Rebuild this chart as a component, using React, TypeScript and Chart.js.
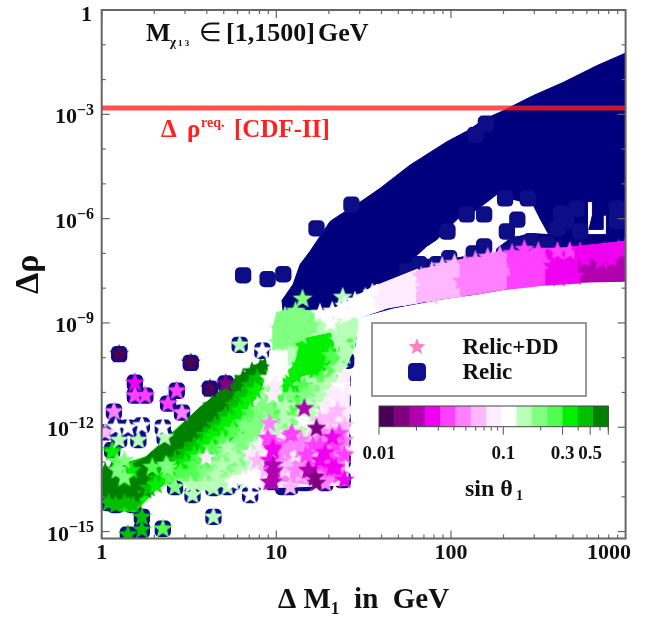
import { useEffect, useRef } from "react";
import { Chart, registerables } from "chart.js";

Chart.register(...registerables);

type Pt = [number, number]; // [log10 ΔM1, log10 Δρ]

const xTickValues = [1, 10, 100, 1000];
const xTickLabels = ["1", "10", "100", "1000      "];
const yTickValues = [1, 1e-3, 1e-6, 1e-9, 1e-12, 1e-15];
const yTickExponents = ["", "−3", "−6", "−9", "−12", "−15"];
const xMinorMult = [2, 3, 4, 5, 6, 7, 8, 9];
const xDecades = [1, 10, 100];
const yDecades = [0, -1, -2, -3, -4, -5, -6, -7, -8, -9, -10, -11, -12, -13, -14, -15];

const reqRho = 0.00151;
const navyFill = "#00007e";
const navySquare = "#0d0d88";

const barColors = ["#4a0055", "#800080", "#b000b0", "#f000f0", "#ff40ff", "#ff80ff", "#ffb8ff", "#ffecff", "#ffffff", "#b8ffb8", "#80ff80", "#50ff50", "#00f000", "#00c000", "#008000"];
const barTicksMajor = [0.01, 0.1, 0.3, 0.5];
const barTicksMinor = [0.02, 0.03, 0.04, 0.05, 0.06, 0.07, 0.08, 0.09, 0.2, 0.4, 0.6, 0.7];
const barLabels = ["0.01", "0.1", "0.3", "0.5"];

const navyTop: Pt[] = [[1.03,-8.37],[1.096,-7.89],[1.136,-7.32],[1.193,-6.94],[1.308,-6.08],[1.365,-5.89],[1.47,-5.56],[1.594,-5.13],[1.766,-4.46],[1.976,-3.79],[2.10,-3.46],[2.195,-3.13],[2.281,-2.94],[2.472,-2.46],[2.644,-2.08],[2.835,-1.60],[3.0,-1.24],[3.0,-6.6],[2.89,-6.6],[2.89,-5.9],[2.87,-5.9],[2.87,-6.31],[2.79,-6.31],[2.81,-5.9],[2.81,-5.51],[2.78,-5.51],[2.78,-6.6],[2.57,-6.6],[2.56,-6.46],[2.51,-6.0],[2.47,-5.6],[2.26,-5.31],[2.21,-5.51],[2.13,-5.8],[2.04,-6.0],[1.92,-6.6],[1.86,-6.8],[1.78,-7.17],[1.67,-8.0],[1.42,-8.6],[1.14,-8.9],[1.04,-8.9]];
const navyLow: Pt[] = [[1.78,-7.17],[1.99,-7.17],[2.07,-7.1],[2.26,-7.17],[2.26,-6.88],[2.34,-6.57],[2.46,-6.43],[2.57,-6.46],[3.0,-6.46],[3.0,-7.78],[2.64,-7.83],[2.38,-7.97],[2.15,-8.17],[1.95,-8.31],[1.67,-8.57],[1.48,-8.83],[1.45,-8.37]];

const navySquares: Pt[] = [[1.23,-6.28],[0.81,-7.63],[0.95,-7.74],[1.04,-7.6],[0.10,-9.9],[0.51,-10.15],[0.62,-10.89],[0.71,-10.74],[0.19,-10.72],[0.19,-11.09],[0.25,-11.09],[0.43,-10.95],[0.38,-11.32],[0.46,-11.58],[0.07,-11.55],[0.02,-12.15],[0.15,-12.01],[0.23,-11.95],[0.35,-12.01],[0.08,-12.0],[0.10,-12.37],[0.21,-12.37],[0.36,-12.29],[0.06,-12.66],[0.79,-9.63],[0.92,-9.8],[0.52,-13.95],[0.64,-13.75],[0.64,-14.58],[0.85,-13.95],[0.75,-13.58],[0.42,-13.72],[0.35,-14.92],[0.23,-14.58],[0.23,-14.95],[0.15,-15.09],[0.04,-14.18],[0.13,-14.18],[0.08,-14.24],[0.18,-14.24],[0.98,-13.58],[1.08,-13.72],[1.22,-13.44],[1.28,-13.61],[1.38,-13.52],[1.38,-12.95],[1.38,-12.37],[1.38,-11.8],[1.38,-11.23],[1.38,-10.66],[1.40,-10.09],[1.41,-9.51],[0.81,-13.47],[0.87,-13.61],[1.04,-13.72],[1.16,-13.61],[0.72,-13.72],[2.19,-5.88],[2.09,-5.88],[2.38,-6.03],[2.32,-6.37],[1.98,-6.37],[2.19,-6.8],[2.13,-7.0],[2.31,-7.0],[2.46,-6.65],[2.38,-6.74],[2.55,-6.74],[2.61,-6.28],[2.66,-6.08],[2.74,-6.37],[2.95,-6.08],[2.72,-5.71],[2.31,-5.42],[2.44,-5.42],[1.99,-7.14],[1.82,-7.31],[1.92,-7.31],[1.75,-7.51],[2.2,-3.27],[2.14,-3.59],[1.43,-5.6],[2.63,-5.85],[2.95,-5.71]];

const polyC8Band: Pt[] = [[1.39,-8.43],[1.58,-7.88],[1.62,-8.37],[1.62,-8.6],[1.46,-8.88]];
const polyC7Band: Pt[] = [[1.58,-7.91],[1.81,-7.45],[1.81,-8.43],[1.67,-8.54],[1.58,-8.63]];
const polyC6Band: Pt[] = [[1.80,-7.51],[2.07,-7.17],[2.07,-8.23],[1.95,-8.31],[1.80,-8.43]];
const polyC5Band: Pt[] = [[2.05,-7.2],[2.34,-7.0],[2.34,-8.0],[2.15,-8.17],[2.05,-8.23]];
const polyC4Band: Pt[] = [[2.32,-7],[2.56,-6.86],[2.56,-7.9],[2.38,-8.0],[2.32,-8.03]];
const polyC3Band: Pt[] = [[2.54,-6.89],[3,-6.65],[3,-7.14],[2.74,-7.17],[2.74,-7.85],[2.54,-7.91]];
const polyC2Band: Pt[] = [[2.73,-7.17],[3,-7.08],[3,-7.8],[2.73,-7.83]];
const polyC9Fan: Pt[] = [[1.0,-9.0],[1.04,-8.66],[1.14,-8.66],[1.47,-8.86],[1.45,-9.66],[1.39,-10.37],[1.32,-11.09],[1.14,-11.8],[0.94,-12.37],[0.88,-13.52],[0.56,-13.81],[0.42,-13.47],[0.56,-12.81],[0.79,-11.8],[0.92,-11.09],[0.98,-9.8]];
const polyC7Low: Pt[] = [[0.91,-12.1],[1.14,-11.66],[1.31,-11.0],[1.39,-10.32],[1.42,-10.43],[1.41,-13.66],[0.91,-13.75],[0.82,-13.38]];
const polyC5Low: Pt[] = [[0.96,-12.23],[1.14,-12.52],[1.28,-12.09],[1.39,-11.95],[1.39,-13.47],[1.25,-13.66],[0.97,-13.52]];
const polyC10Top: Pt[] = [[1.0,-8.7],[1.10,-8.6],[1.21,-8.66],[1.23,-9.23],[1.12,-9.57],[0.98,-9.74],[0.98,-9.09]];
const polyC8Top: Pt[] = [[1.24,-8.72],[1.36,-8.52],[1.47,-8.72],[1.39,-9.0],[1.28,-9.09]];
const polyC8Mid: Pt[] = [[0.96,-9.8],[1.06,-9.8],[1.06,-10.58],[0.98,-10.8],[0.95,-10.37]];
const polyC12Center: Pt[] = [[1.11,-10.09],[1.15,-9.46],[1.31,-9.29],[1.34,-9.8],[1.28,-10.37],[1.15,-10.52],[1.08,-10.8],[1.04,-11.23],[1.04,-10.52]];
const polyC10Low: Pt[] = [[0.42,-13.52],[0.56,-13.01],[0.71,-12.37],[0.82,-11.8],[0.92,-11.17],[0.92,-11.95],[0.82,-13.09],[0.65,-13.52],[0.53,-13.66]];
const polyC12Wedge: Pt[] = [[0,-14.0],[0.10,-14.38],[0.19,-14.44],[0.31,-13.81],[0.56,-12.95],[0.71,-12.23],[0.82,-11.66],[0.92,-10.8],[0.95,-10.31],[0.79,-10.8],[0.56,-11.52],[0.28,-12.81],[0,-13.24]];
const polyC13Wedge: Pt[] = [[0,-14],[0.09,-14.24],[0.19,-14.09],[0.28,-13.52],[0.39,-13.09],[0.64,-11.95],[0.79,-11.23],[0.95,-10.37],[0.79,-10.66],[0.56,-11.44],[0.25,-12.87],[0,-13.24]];
const polyC14Wedge: Pt[] = [[0.94,-10.03],[0.75,-10.66],[0.56,-11.44],[0.37,-12.37],[0.25,-12.87],[0.13,-13.18],[0,-13.24],[0,-14],[0.09,-14.09],[0.19,-13.95],[0.28,-13.3],[0.37,-12.87],[0.64,-11.72],[0.79,-10.86],[0.95,-10.31]];

const starsC14: Pt[] = [[0.91,-10.29],[0.86,-10.40],[0.81,-10.60],[0.77,-10.77],[0.72,-11.00],[0.68,-11.17],[0.70,-11.35],[0.63,-11.38],[0.64,-11.58],[0.59,-11.63],[0.60,-11.83],[0.54,-11.89],[0.55,-12.09],[0.49,-12.12],[0.51,-12.32],[0.45,-12.37],[0.45,-12.58],[0.39,-12.6],[0.40,-12.81],[0.33,-12.81],[0.02,-13.29],[0.04,-13.58],[0.02,-13.81],[0.08,-13.41],[0.09,-13.81],[0.15,-13.72],[0.20,-13.58],[0.25,-13.47],[0.19,-13.99],[0.28,-13.24],[0.06,-13.23],[0.25,-13.81]];
const starsC13: Pt[] = [[0.06,-12.66],[0.04,-14.18],[0.08,-14.24],[0.13,-14.18],[0.18,-14.24],[0.23,-14.58],[0.23,-14.95],[0.15,-15.09],[0.27,-13.75],[0.31,-13.47],[0.10,-13.18],[0.85,-10.8],[0.81,-11.08],[0.76,-11.37],[0.71,-11.66],[0.65,-11.95],[0.59,-12.23],[0.53,-12.52],[0.48,-12.72],[0.42,-12.95],[0.36,-13.09],[0.33,-13.3],[0.89,-10.6]];
const starsC12: Pt[] = [[0.17,-13.24],[0.13,-13.47],[0.88,-10.95],[0.84,-11.23],[0.79,-11.52],[0.73,-11.8],[0.69,-12.03],[0.63,-12.26],[0.59,-12.49],[0.53,-12.78],[0.48,-13.01],[0.42,-13.18],[0.36,-13.41],[0.31,-13.66],[1.14,-10.23],[1.19,-9.94],[1.25,-9.66],[1.28,-9.94],[1.22,-10.37],[1.15,-9.66],[1.11,-10.52],[1.08,-10.89],[1.2,-10.15],[1.12,-11.08],[1.06,-11.29],[0.06,-12.72],[0.62,-12.8],[0.71,-12.37],[0.78,-11.95]];
const starsC11: Pt[] = [[0.35,-14.92],[0.09,-13],[0.85,-11.58],[0.81,-11.87],[0.75,-12.09],[0.69,-12.37],[0.63,-12.6],[0.56,-12.89],[0.52,-13.09],[0.45,-13.3],[0.39,-13.47],[1.36,-9.94],[1.32,-10.32],[1.26,-10.6],[1.16,-10.81],[1.01,-11.17],[1.08,-11.52],[1.14,-11.23],[0.99,-11.58],[0.29,-13.15],[0.52,-13.38],[0.59,-13.0],[1.41,-9.51],[1.31,-9.94]];
const starsC10: Pt[] = [[1.15,-8.31],[1.05,-8.8],[1.11,-8.66],[1.16,-8.88],[1.02,-9.17],[1.09,-9.09],[1.01,-9.57],[1.08,-9.51],[1.14,-9.37],[1.2,-9.09],[0.42,-13.72],[0.82,-11.95],[0.85,-12.37],[0.76,-12.52],[0.71,-12.81],[0.65,-13.01],[0.59,-13.3],[0.79,-12.89],[0.73,-13.24],[0.90,-11.52],[0.94,-11.37],[0.96,-11.08],[0.38,-13.18],[0.09,-13.24],[1.19,-11.0],[1.25,-10.89],[1.08,-11.09],[1.16,-11.09],[1.22,-11.29],[0.13,-12.95],[0.37,-13.09],[0.13,-13.44],[1.11,-11.8],[0.96,-11.52],[1.04,-11.89],[0.88,-11.95]];
const starsC9: Pt[] = [[1.38,-8.26],[1.31,-9.09],[1.39,-9.17],[1.36,-9.51],[1.42,-9.29],[1.39,-9.66],[1.33,-10.66],[1.26,-11.08],[1.19,-11.37],[1.05,-11.75],[0.99,-12.03],[0.79,-9.63],[0.21,-12.37],[0.10,-12.37],[0.36,-12.29],[0.52,-13.95],[0.64,-13.75],[0.64,-14.58],[0.72,-12.58],[0.76,-12.87],[0.69,-13.09],[0.79,-13.24],[0.85,-12.95],[0.65,-13.38],[0.73,-13.52],[0.59,-13.66],[0.88,-12.52],[1.19,-11.66],[1.25,-11.23],[1.14,-12.09],[1.05,-11.37],[1.36,-10.32],[1.39,-9.94],[1.28,-10.81],[1.34,-8.94],[0.72,-13.72],[0.51,-13.66],[0.82,-13.58],[0.92,-13.24]];
const starsC8: Pt[] = [[0.92,-9.8],[0.85,-13.95],[0.75,-13.58],[0.15,-12.01],[0.23,-11.95],[0.35,-12.01],[0.08,-12.0],[0.99,-10.09],[1.02,-10.37],[1.25,-8.72],[1.32,-8.66],[1.39,-8.52],[1.45,-8.37],[1.51,-8.26],[1.55,-8.14],[1.15,-11.8],[0.89,-13.38],[0.84,-13.52],[1.34,-11.23],[1.36,-10.81],[0.96,-10.6],[0.81,-13.47],[0.87,-13.61],[1.36,-8.72],[1.31,-9.0],[1.04,-10.32]];
const starsC7: Pt[] = [[0.60,-12.87],[0.98,-11.08],[0.99,-10.8],[1.34,-11.66],[1.36,-11.09],[1.39,-10.52],[0.91,-12.52],[0.88,-12.95],[1.05,-13.24],[1.11,-12.81],[1.59,-8.31],[1.66,-8.14],[1.74,-7.94],[1.79,-7.8],[1.71,-8.31],[1.76,-8.14],[1.32,-11.02],[1.36,-11.23],[0.85,-12.75],[1.39,-11.52],[1.28,-11.37],[0.94,-13.38]];
const starsC6: Pt[] = [[0.02,-12.15],[1.08,-13.72],[0.94,-13.24],[1.14,-13.38],[1.02,-12.66],[1.19,-12.37],[1.31,-12.09],[1.36,-12.23],[1.24,-12.8],[1.83,-7.66],[1.89,-7.51],[1.95,-7.37],[2.02,-7.29],[1.85,-8.03],[1.94,-7.88],[2.02,-7.74],[1.89,-8.23],[1.07,-13.15],[1.31,-11.72],[1.35,-11.52],[1.15,-12.66],[0.89,-12.95],[1.25,-11.8],[1.39,-11.95]];
const starsC5: Pt[] = [[0.07,-11.55],[0.46,-11.58],[0.96,-11.89],[1.28,-13.61],[1.36,-12.81],[1.14,-12.66],[0.96,-12.37],[2.08,-7.29],[2.14,-7.2],[2.21,-7.11],[2.28,-7.05],[2.12,-7.66],[2.22,-7.51],[2.31,-7.45],[2.16,-7.94],[2.25,-7.85],[2.06,-7.8],[1.38,-12.75],[1.14,-12.37],[1.25,-12.15],[1.05,-12.66],[1.39,-12.37],[1.11,-13.24]];
const starsC4: Pt[] = [[0.19,-11.09],[0.25,-11.09],[0.43,-10.95],[0.38,-11.32],[1.08,-12.24],[1.25,-12.52],[1.34,-12.52],[1.39,-12.8],[1.17,-12.8],[1.31,-13.24],[1.36,-13.38],[1.25,-13.1],[0.99,-12.52],[2.35,-7.0],[2.42,-6.88],[2.5,-6.94],[2.37,-7.45],[2.45,-7.37],[2.4,-7.74],[2.54,-7.29],[2.61,-6.94],[2.68,-6.94],[2.48,-7.68],[0.95,-12.31],[1.09,-12.18],[1.21,-12.52],[1.36,-12.18],[1.32,-12.95]];
const starsC3: Pt[] = [[0.19,-10.72],[0.96,-12.95],[0.98,-12.6],[0.99,-13.24],[1.34,-13.16],[1.39,-13.52],[1.19,-13.24],[1.28,-12.73],[2.58,-7.37],[2.65,-7.45],[2.62,-7.71],[2.71,-7.66],[2.74,-6.94],[2.81,-7],[2.88,-6.94],[2.96,-6.88],[3.0,-6.8],[2.77,-7.17],[2.86,-7.23],[2.92,-7.17],[0.98,-12.66],[1.32,-12.29],[1.25,-12.95],[1.32,-13.15]];
const starsC2: Pt[] = [[1.16,-11.46],[0.98,-13.58],[0.98,-13.3],[1.22,-13.44],[2.8,-7.57],[2.87,-7.57],[2.95,-7.51],[3.0,-7.51],[0.98,-13.09],[0.96,-13.58],[1.18,-13.24]];
const starsC1: Pt[] = [[0.71,-10.74],[1.23,-13.61],[1.23,-12.03],[1.22,-13.44]];
const starsC0: Pt[] = [[0.10,-9.9],[0.51,-10.15],[0.62,-10.89]];

const serif = '"Liberation Serif"';

function toData(pts: Pt[]) {
  return pts.map(([a, b]) => ({ x: Math.pow(10, a), y: Math.pow(10, b) }));
}

function makeStar(color: string, R = 10.5) {
  const size = 26;
  const c = document.createElement("canvas");
  c.width = size;
  c.height = size;
  const g = c.getContext("2d")!;
  g.fillStyle = color;
  g.beginPath();
  for (let i = 0; i < 10; i++) {
    const r = i % 2 === 0 ? R : R * 0.42;
    const a = -Math.PI / 2 + (i * Math.PI) / 5;
    const px = size / 2 + r * Math.cos(a);
    const py = size / 2 + r * Math.sin(a);
    if (i === 0) g.moveTo(px, py);
    else g.lineTo(px, py);
  }
  g.closePath();
  g.fill();
  return c;
}

function polygon(pts: Pt[], color: string) {
  return {
    data: toData(pts),
    showLine: true,
    fill: "shape",
    backgroundColor: color,
    borderColor: color,
    borderWidth: 1,
    pointRadius: 0,
    tension: 0,
  };
}

function squares(pts: Pt[], color: string) {
  return { data: toData(pts), showLine: false, pointStyle: "rectRounded", pointRadius: 9.5, pointBackgroundColor: color, pointBorderWidth: 0 };
}

function stars(pts: Pt[], color: string) {
  return { data: toData(pts), showLine: false, pointStyle: makeStar(color), pointRadius: 10, pointBorderWidth: 0 };
}

const overlay = {
  id: "overlay",
  afterDraw(chart: any) {
    const { ctx, chartArea: a, scales } = chart;
    const xs = scales.x;
    const ys = scales.y;
    const axisColor = "#666666";
    ctx.save();
    ctx.strokeStyle = axisColor;
    ctx.lineWidth = 1.2;
    const seg = (x1: number, y1: number, x2: number, y2: number) => {
      ctx.beginPath();
      ctx.moveTo(x1, y1);
      ctx.lineTo(x2, y2);
      ctx.stroke();
    };
    for (const d of xDecades) {
      const px = xs.getPixelForValue(d);
      seg(px, a.bottom, px, a.bottom - 8);
      seg(px, a.top, px, a.top + 8);
      for (const m of xMinorMult) {
        const p = xs.getPixelForValue(d * m);
        seg(p, a.bottom, p, a.bottom - 4);
        seg(p, a.top, p, a.top + 4);
      }
    }
    for (const e of yDecades) {
      const py = ys.getPixelForValue(Math.pow(10, e));
      const len = e % 3 === 0 ? 8 : 4;
      seg(a.left, py, a.left + len, py);
      seg(a.right, py, a.right - len, py);
    }
    ctx.lineWidth = 2;
    ctx.strokeRect(a.left, a.top, a.right - a.left, a.bottom - a.top);

    const text = (s: string, x: number, y: number, font: string, color = "#111", align: CanvasTextAlign = "left") => {
      ctx.font = font;
      ctx.fillStyle = color;
      ctx.textAlign = align;
      ctx.textBaseline = "alphabetic";
      ctx.fillText(s, x, y);
    };

    // y tick labels: base and raised exponent
    yTickValues.forEach((v, i) => {
      const py = ys.getPixelForValue(v);
      const exp = yTickExponents[i];
      if (!exp) {
        text("1", 92, py + 10.5, `bold 22px ${serif}`, "#111", "right");
        return;
      }
      const fe = `bold 16px ${serif}`;
      ctx.font = fe;
      const w = ctx.measureText(exp).width;
      text(exp, 94 - w, py + 0.5, fe);
      text("10", 94 - w, py + 9, `bold 22px ${serif}`, "#111", "right");
    });

    // annotation top
    const f26 = `bold 26px ${serif}`;
    text("M", 146, 41, f26);
    text("χ", 170, 46, `bold 13px ${serif}`);
    text("1 3", 178, 46, `bold 9px ${serif}`);
    text("∈", 199, 41, `26px ${serif}`);
    text("[1,1500]", 226, 41, f26);
    text("GeV", 318, 41, f26);

    // requirement label
    const red = "#ff2020";
    const fr = `bold 25px ${serif}`;
    text("Δ", 161, 137, fr, red);
    text("ρ", 187, 137, fr, red);
    text("req.", 201, 127, `bold 14px ${serif}`, red);
    text("[CDF-II]", 234, 137, fr, red);

    // legend box
    ctx.fillStyle = "#fff";
    ctx.fillRect(372, 323, 214, 73);
    ctx.strokeStyle = "#777";
    ctx.lineWidth = 1.5;
    ctx.strokeRect(372, 323, 214, 73);
    ctx.drawImage(makeStar("#ff80c0", 9), 404, 334);
    ctx.fillStyle = "#0f0f90";
    ctx.beginPath();
    (ctx as any).roundRect(408, 363, 18, 18, 4.5);
    ctx.fill();
    text("Relic+DD", 462.5, 354, `bold 23px ${serif}`);
    text("Relic", 462.5, 379, `bold 23px ${serif}`);

    // colour bar
    const bx0 = 379;
    const bx1 = 608.3;
    const by0 = 406;
    const by1 = 426.7;
    const barPx = (v: number) => bx0 + (Math.log10(v) + 2) * 124.3;
    barColors.forEach((c, i) => {
      const w = (bx1 - bx0) / barColors.length;
      ctx.fillStyle = c;
      ctx.fillRect(bx0 + i * w, by0, w + 0.5, by1 - by0);
    });
    ctx.strokeStyle = "#444";
    ctx.lineWidth = 1;
    ctx.strokeRect(bx0, by0, bx1 - bx0, by1 - by0);
    ctx.strokeStyle = "#555";
    for (const v of barTicksMajor) seg(barPx(v), by1, barPx(v), by1 + 8);
    for (const v of barTicksMinor) seg(barPx(v), by1, barPx(v), by1 + 4);
    seg(bx1, by1, bx1, by1 + 8);
    barTicksMajor.forEach((v, i) => {
      text(barLabels[i], barPx(v), 459, `bold 19px ${serif}`, "#111", "center");
    });
    text("sin θ", 465, 496, `bold 24px ${serif}`);
    text("1", 516, 500, `bold 14px ${serif}`);
    ctx.restore();
  },
};

export default function App() {
  const ref = useRef<HTMLCanvasElement>(null);
  useEffect(() => {
    const layers: any[] = [
      polygon(navyTop, navyFill),
      polygon(navyLow, navyFill),
      squares(navySquares, navySquare),
      polygon(polyC9Fan, barColors[9]),
      polygon(polyC7Low, barColors[7]),
      polygon(polyC5Low, barColors[5]),
      polygon(polyC10Top, barColors[10]),
      polygon(polyC8Top, barColors[8]),
      polygon(polyC8Mid, barColors[8]),
      polygon(polyC12Center, barColors[12]),
      polygon(polyC10Low, barColors[10]),
      polygon(polyC12Wedge, barColors[12]),
      polygon(polyC13Wedge, barColors[13]),
      polygon(polyC14Wedge, barColors[14]),
      polygon(polyC8Band, barColors[8]),
      polygon(polyC7Band, barColors[7]),
      polygon(polyC6Band, barColors[6]),
      polygon(polyC5Band, barColors[5]),
      polygon(polyC4Band, barColors[4]),
      polygon(polyC3Band, barColors[3]),
      polygon(polyC2Band, barColors[2]),
      stars(starsC14, barColors[14]),
      stars(starsC13, barColors[13]),
      stars(starsC12, barColors[12]),
      stars(starsC11, barColors[11]),
      stars(starsC10, barColors[10]),
      stars(starsC9, barColors[9]),
      stars(starsC8, barColors[8]),
      stars(starsC7, barColors[7]),
      stars(starsC6, barColors[6]),
      stars(starsC5, barColors[5]),
      stars(starsC4, barColors[4]),
      stars(starsC3, barColors[3]),
      stars(starsC2, barColors[2]),
      stars(starsC1, barColors[1]),
      stars(starsC0, barColors[0]),
      {
        data: [{ x: 1, y: reqRho }, { x: 1000, y: reqRho }],
        showLine: true,
        borderColor: "rgba(255,30,30,0.78)",
        borderWidth: 5,
        pointRadius: 0,
      },
    ];
    const chart = new Chart(ref.current!, {
      type: "scatter",
      data: { datasets: layers.reverse() },
      plugins: [overlay],
      options: {
        animation: false,
        responsive: false,
        devicePixelRatio: 1,
        layout: { padding: { top: 7.4, right: 36.4, left: 0, bottom: 0 } },
        plugins: { legend: { display: false }, tooltip: { enabled: false } },
        events: [],
        scales: {
          x: {
            type: "logarithmic",
            min: 1,
            max: 1000,
            grid: { display: false, drawTicks: false },
            border: { display: false },
            afterBuildTicks: (s: any) => { s.ticks = xTickValues.map((value) => ({ value })); },
            afterFit: (s: any) => { s.height = 82.5; s.paddingLeft = 0; s.paddingRight = 0; },
            ticks: {
              autoSkip: false,
              maxRotation: 0,
              minRotation: 0,
              padding: 2,
              color: "#111",
              font: { family: serif, size: 22, weight: "bold" },
              callback: (_v: any, i: number) => xTickLabels[i],
            },
            title: {
              display: true,
              text: "Δ M₁  in  GeV",
              color: "#111",
              font: { family: serif, size: 29, weight: "bold" },
              padding: { top: 0, bottom: 3 },
            },
          },
          y: {
            type: "logarithmic",
            min: Math.pow(10, -15.2),
            max: 1,
            grid: { display: false, drawTicks: false },
            border: { display: false },
            afterBuildTicks: (s: any) => { s.ticks = yTickValues.map((value) => ({ value })); },
            afterFit: (s: any) => { s.width = 101.7; s.paddingTop = 0; s.paddingBottom = 0; },
            ticks: { display: false },
            title: {
              display: true,
              text: "Δρ",
              color: "#111",
              font: { family: serif, size: 34, weight: "bold" },
              padding: { top: 9, bottom: 0 },
            },
          },
        },
      } as any,
    });
    return () => chart.destroy();
  }, []);
  return (
    <div style={{ position: "absolute", left: 0, top: 0, width: 662, height: 621, background: "#fff" }}>
      <canvas ref={ref} width={662} height={621} style={{ display: "block" }} />
    </div>
  );
}
